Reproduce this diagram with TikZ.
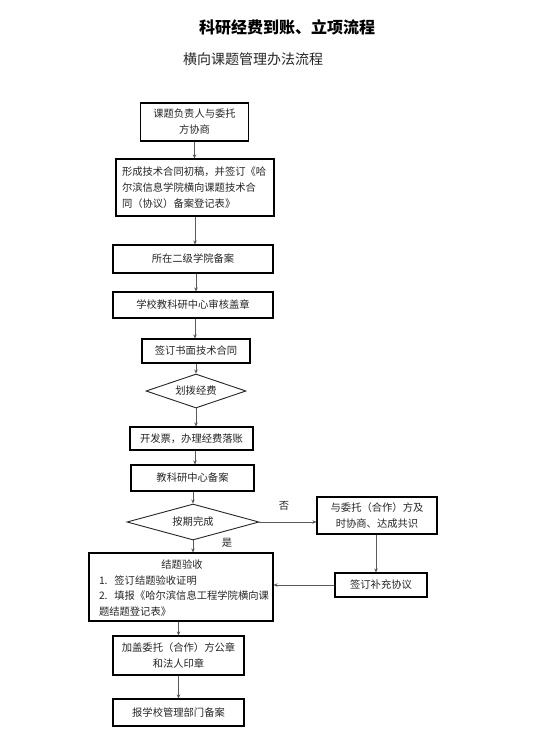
\documentclass[tikz,border=0pt]{standalone}
\usepackage{fontspec}
\setmainfont{Noto Sans CJK SC}
\usetikzlibrary{arrows.meta,shapes.geometric}
\begin{document}
\begin{tikzpicture}[x=1pt,y=-1pt,
  box/.style={draw=black,line width=1.1pt,rectangle,inner sep=0pt,align=center,
    font=\fontsize{10.3}{16}\selectfont,text=black!85},
  dia/.style={draw=black!85,line width=0.9pt,diamond,inner sep=0pt,shape aspect=3.5,
    font=\fontsize{10.3}{16}\selectfont,text=black!85},
  conn/.style={draw=black!65,line width=1pt,-{Stealth[length=4pt,width=3.5pt]}},
  lbl/.style={font=\fontsize{10.3}{12}\selectfont,text=black!85,inner sep=0pt}]
\useasboundingbox[fill=white] (0,0) rectangle (548,734);

\node[font=\bfseries\fontsize{16}{18}\selectfont,inner sep=0pt] (title) at (287,27) {科研经费到账、立项流程};
\node[font=\fontsize{14}{16}\selectfont,inner sep=0pt,text=black!85] (sub) at (253,59) {横向课题管理办法流程};

\node[box,minimum width=108pt,minimum height=38pt] (b1) at (194.5,122) {课题负责人与委托\\方协商};
\node[box,minimum width=158pt,minimum height=57pt,text width=146pt,align=left] (b2) at (195,187.5)
  {形成技术合同初稿，并签订《哈\\尔滨信息学院横向课题技术合\\同（协议）备案登记表》};
\node[box,minimum width=160pt,minimum height=28pt] (b3) at (193,259) {所在二级学院备案};
\node[box,minimum width=160pt,minimum height=26pt] (b4) at (193,305) {学校教科研中心审核盖章};
\node[box,minimum width=108pt,minimum height=24pt] (b5) at (196,351) {签订书面技术合同};
\node[dia,minimum width=100pt,minimum height=34pt] (d1) at (196,391) {划拨经费};
\node[box,minimum width=123pt,minimum height=23pt] (b6) at (191.5,438.5) {开发票，办理经费落账};
\node[box,minimum width=123pt,minimum height=26pt] (b7) at (192.5,478) {教科研中心备案};
\node[dia,minimum width=132pt,minimum height=36pt] (d2) at (193,522) {按期完成};
\node[box,minimum width=120pt,minimum height=37pt] (b8) at (377,515.5) {与委托（合作）方及\\时协商、达成共识};
\node[box,minimum width=92pt,minimum height=24pt] (b9) at (381,585) {签订补充协议};
\node[box,minimum width=184pt,minimum height=68pt] (big) at (181,587) {};
\node[inner sep=0pt,text width=170pt,align=left,font=\fontsize{10.3}{15.5}\selectfont,text=black!85] (bigtxt) at (184,588)
  {\makebox[166pt][c]{结题验收}\\1.\ \ 签订结题验收证明\\2.\ \ 填报《哈尔滨信息工程学院横向课\\题结题登记表》};
\node[box,minimum width=131pt,minimum height=39pt] (b10) at (178.5,655.5) {加盖委托（合作）方公章\\和法人印章};
\node[box,minimum width=131pt,minimum height=27pt] (b11) at (178.5,712.5) {报学校管理部门备案};

\node[lbl] (no) at (284,506) {否};
\node[lbl] (yes) at (227,543) {是};

\draw[conn] (b1.south) -- (b1.south |- b2.north);
\draw[conn] ([xshift=2pt]b3.north |- b2.south) -- ([xshift=2pt]b3.north);
\draw[conn] ([xshift=3pt]b4.north |- b3.south) -- ([xshift=3pt]b4.north);
\draw[conn] ([xshift=2pt]b4.south) -- ([xshift=2pt]b4.south |- b5.north);
\draw[conn] (b5.south) -- (d1.north);
\draw[conn] (d1.south) -- (d1.south |- b6.north);
\draw[conn] ([xshift=3.5pt]b6.south) -- ([xshift=3.5pt]b6.south |- b7.north);
\draw[conn] (d2.north |- b7.south) -- (d2.north);
\draw[conn] (d2.east) -- (d2.east -| b8.west);
\draw[conn] (d2.south) -- (d2.south |- big.north);
\draw[conn] ([xshift=-1pt]b8.south) -- ([xshift=-1pt]b8.south |- b9.north);
\draw[conn] (b9.west) -- (b9.west -| big.east);
\draw[conn] (b10.north |- big.south) -- (b10.north);
\draw[conn] (b10.south) -- (b11.north);
\end{tikzpicture}
\end{document}
